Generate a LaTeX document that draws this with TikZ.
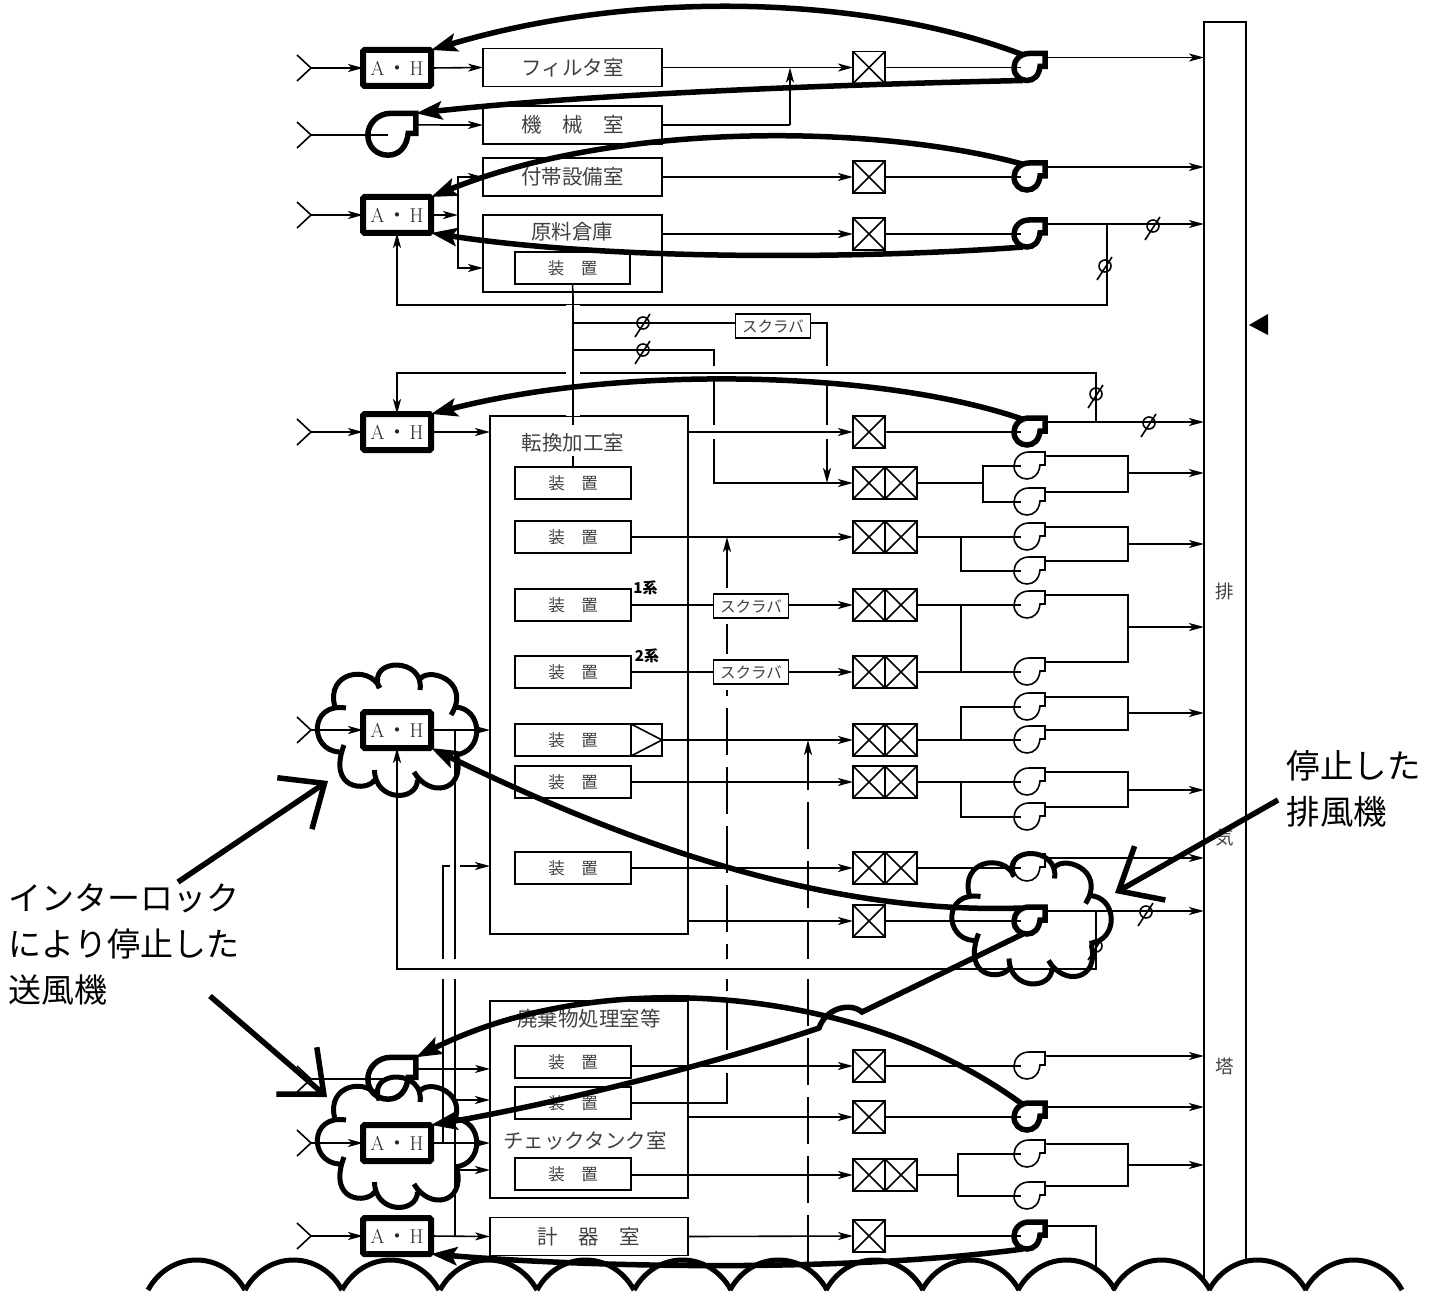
\documentclass[tikz,border=0pt]{standalone}
\usepackage{fontspec}
\newfontfamily\cjk{Noto Sans CJK JP}
\usetikzlibrary{arrows.meta}
\usetikzlibrary{positioning}
\tikzset{
    ah/.style={
           rectangle,
           rounded corners=1.5pt,
           draw=black, line width=6pt,
           minimum width=68pt, minimum height=36pt,
           inner sep=0pt, outer sep=0pt,
           font=\fontsize{20}{20}\selectfont,
           text=black!85,
           },
    room/.style={
           rectangle,
           draw=black,
           minimum width=179pt, minimum height=38pt,
           inner sep=0pt, outer sep=0pt,
           font=\fontsize{20.5}{21}\selectfont\cjk,
           text=black!75,
           },
    hall/.style={room, minimum width=198pt},
    device/.style={
           rectangle,
           draw=black,
           minimum width=116pt, minimum height=32pt,
           inner sep=0pt, outer sep=0pt,
           font=\fontsize{16.5}{17}\selectfont\cjk,
           text=black!75,
           },
    scrubber/.style={
           rectangle,
           draw=black, fill=white,
           minimum width=75pt, minimum height=24pt,
           inner sep=0pt, outer sep=0pt,
           font=\fontsize{15.5}{16}\selectfont\cjk,
           text=black!75,
           },
    xbox/.style={
           rectangle,
           draw=black,
           minimum width=32pt, minimum height=32pt,
           inner sep=0pt, outer sep=0pt,
           path picture={
             \draw (path picture bounding box.north west) -- (path picture bounding box.south east);
             \draw (path picture bounding box.south west) -- (path picture bounding box.north east);
           },
           },
    roomlabel/.style={inner sep=0pt, font=\fontsize{20.5}{21}\selectfont\cjk, text=black!75},
    towerlabel/.style={inner sep=0pt, font=\fontsize{18.5}{19}\selectfont\cjk, text=black!75},
    linelabel/.style={inner sep=0pt, font=\fontsize{15}{16}\selectfont\cjk\bfseries},
    callout/.style={inner sep=0pt, align=left},
    hot/.style={line width=5.5pt},
    hotline/.style={line width=5.5pt, -{Stealth[length=26pt,width=18pt,inset=5pt]}},
    bigarrow/.style={line width=5.5pt, -{Straight Barb[length=36pt,width=62pt]}},
    longdash/.style={dash pattern=on 47pt off 12pt},
    halo/.style={preaction={draw=white, line width=#1, -, shorten >=9pt, shorten <=9pt}},
    % blower: thin by default, [hot] when it is stopped by the interlock
    fan/.pic={
      \draw[pic actions] (18,-1) -- (18,-14) -- (2,-14)
        .. controls (-7,-14) and (-13,-7) .. (-13,0)
        .. controls (-13,8) and (-7,13) .. (0,13)
        .. controls (7,13) and (12,8) .. (13,-1) -- cycle;
      \coordinate (-hub) at (0,0);
      \coordinate (-in) at (-6,0);
      \coordinate (-out) at (18,-10);
      \coordinate (-side) at (18,-6.5);
      \coordinate (-tl) at (-5,-13);
      \coordinate (-tr) at (18,-14);
      \coordinate (-bot) at (-4,13);
    },
    damper/.pic={
      \draw (0,0) circle (6pt);
      \draw (-8,14) -- (7,-9);
    },
    inlet/.pic={
      \draw (-14,-13) -- (0,0) -- (-14,13);
      \coordinate (-tip) at (0,0);
    },
    cloud/.pic={
      \draw[line width=5pt]
        (-18,-42) .. controls (-30,-73) and (28,-73) .. (23,-40)
        (22,-49) .. controls (28,-65) and (76,-50) .. (54,-15)
        (58,-23) .. controls (86,-22) and (88,22) .. (58,25)
        (60,27) .. controls (68,62) and (32,68) .. (17,42)
        (20.5,50) .. controls (20,72) and (-22,72) .. (-22.5,40)
        (-22.5,50) .. controls (-30,62) and (-70,60) .. (-53,15)
        (-58,22) .. controls (-88,20) and (-88,-28) .. (-51,-22)
        (-62,-23) .. controls (-72,-58) and (-28,-66) .. (-17,-42);
    },
    scallop/.pic={
      \draw[line width=5pt] (0,0) .. controls (22,-40) and (75,-40) .. (97,0);
    },
}
\begin{document}
\begin{tikzpicture}[x=1pt, y=-1pt, line width=1.6pt, >={Stealth[length=15pt,width=8pt,inset=4pt]}]
 \useasboundingbox (0,0) rectangle (1442,1297);

 % Exhaust tower, open at the bottom
 \coordinate (towerL) at (1204,22);
 \draw (1204,1278) -- (towerL) -- (1246,22) -- (1246,1262);
 \node[towerlabel] (towerA) at (1225,591) {排};
 \node[towerlabel] (towerB) at (1225,838) {気};
 \node[towerlabel] (towerC) at (1225,1066) {塔};
 \fill (1249,325) -- (1268,314) -- (1268,335) -- cycle;

 % Air handlers
 \node[ah] (AHa) at (397,68) {A\hspace{2.5pt}{\cjk ・}\hspace{2.5pt}H};
 \node[ah] (AHb) at (397,215) {A\hspace{2.5pt}{\cjk ・}\hspace{2.5pt}H};
 \node[ah] (AHc) at (397,432) {A\hspace{2.5pt}{\cjk ・}\hspace{2.5pt}H};
 \node[ah] (AHd) at (397,730) {A\hspace{2.5pt}{\cjk ・}\hspace{2.5pt}H};
 \node[ah] (AHe) at (397,1143) {A\hspace{2.5pt}{\cjk ・}\hspace{2.5pt}H};
 \node[ah] (AHf) at (397,1236) {A\hspace{2.5pt}{\cjk ・}\hspace{2.5pt}H};

 % Rooms
 \node[room] (filter) at (572.5,67.5) {フィルタ室};
 \node[room] (machine) at (572.5,125) {機　械　室};
 \node[room] (annex) at (572.5,177) {付帯設備室};
 \node[room, minimum height=77pt] (storage) at (572.5,253.5) {};
 \node[roomlabel] (storageL) at (572,232) {原料倉庫};
 \node[device, minimum width=115pt] (devS) at (572.5,268) {装　置};
 \node[hall, minimum height=518pt] (conv) at (589,675) {};
 \node[roomlabel] (convL) at (573,443) {転換加工室};
 \node[hall, minimum height=197pt] (waste) at (589,1099.5) {};
 \node[roomlabel] (wasteL) at (589,1019) {廃棄物処理室等};
 \node[roomlabel] (checkL) at (585,1141) {チェックタンク室};
 \node[hall] (meter) at (589,1236.5) {計　器　室};

 % Devices
 \node[device] (devA) at (573,483) {装　置};
 \node[device] (devB) at (573,537) {装　置};
 \node[device] (devC) at (573,605) {装　置};
 \node[device] (devD) at (573,672) {装　置};
 \node[device] (devE) at (573,740) {装　置};
 \node[device] (devF) at (573,782) {装　置};
 \node[device] (devG) at (573,868) {装　置};
 \node[device] (devWa) at (573,1062) {装　置};
 \node[device] (devWb) at (573,1103) {装　置};
 \node[device] (devWc) at (573,1174) {装　置};
 \node[device,
  minimum width=31pt,
  right=0pt of devE,
  path picture={
    \draw (path picture bounding box.north west) -- (path picture bounding box.east)
       -- (path picture bounding box.south west);
  }] (ampE) {};
 \node[linelabel] (sysA) at (645.5,588) {1系};
 \node[linelabel] (sysB) at (647,656) {2系};

 % Filter boxes
 \node[xbox] (xA) at (869,67.5) {};
 \node[xbox] (xC) at (869,177) {};
 \node[xbox] (xD) at (869,234) {};
 \node[xbox] (xF) at (869,432) {};
 \node[xbox] (xEa) at (869,483) {};
 \node[xbox, right=0pt of xEa] (xEb) {};
 \node[xbox] (xGa) at (869,537) {};
 \node[xbox, right=0pt of xGa] (xGb) {};
 \node[xbox] (xHa) at (869,605) {};
 \node[xbox, right=0pt of xHa] (xHb) {};
 \node[xbox] (xIa) at (869,672) {};
 \node[xbox, right=0pt of xIa] (xIb) {};
 \node[xbox] (xJa) at (869,740) {};
 \node[xbox, right=0pt of xJa] (xJb) {};
 \node[xbox] (xKa) at (869,782) {};
 \node[xbox, right=0pt of xKa] (xKb) {};
 \node[xbox] (xLa) at (869,868) {};
 \node[xbox, right=0pt of xLa] (xLb) {};
 \node[xbox] (xM) at (869,921) {};
 \node[xbox] (xO) at (869,1066) {};
 \node[xbox] (xP) at (869,1117) {};
 \node[xbox] (xQa) at (869,1175) {};
 \node[xbox, right=0pt of xQa] (xQb) {};
 \node[xbox] (xN) at (869,1236) {};

 % Scrubbers
 \node[scrubber] (scrubA) at (773,326) {スクラバ};
 \node[scrubber] (scrubB) at (751,606) {スクラバ};
 \node[scrubber] (scrubC) at (751,672) {スクラバ};

 % Blowers
 \pic[hot] (fanA) at (1027,67.5) {fan};
 \pic[hot, scale=1.55] (fanB) at (388,135) {fan};
 \pic[hot] (fanC) at (1027,177) {fan};
 \pic[hot] (fanD) at (1027,234) {fan};
 \pic[hot] (fanF) at (1027,432) {fan};
 \pic (fanEa) at (1027,466) {fan};
 \pic (fanEb) at (1027,502) {fan};
 \pic (fanGa) at (1027,537) {fan};
 \pic (fanGb) at (1027,571) {fan};
 \pic (fanHa) at (1027,605) {fan};
 \pic (fanIa) at (1027,672) {fan};
 \pic (fanJa) at (1027,707) {fan};
 \pic (fanJb) at (1027,740) {fan};
 \pic (fanKa) at (1027,782) {fan};
 \pic (fanKb) at (1027,817) {fan};
 \pic (fanLa) at (1027,868) {fan};
 \pic[hot] (fanM) at (1027,921) {fan};
 \pic (fanO) at (1027,1066) {fan};
 \pic[hot] (fanP) at (1027,1117) {fan};
 \pic (fanQa) at (1027,1154) {fan};
 \pic (fanQb) at (1027,1196) {fan};
 \pic[hot] (fanN) at (1027,1236) {fan};
 \pic[hot, scale=1.55] (fanW) at (388,1079) {fan};

 % Outside air inlets
 \pic (inA) at (311,68) {inlet};
 \pic (inB) at (311,135) {inlet};
 \pic (inC) at (311,215) {inlet};
 \pic (inD) at (311,432) {inlet};
 \pic (inE) at (311,730) {inlet};
 \pic (inF) at (311,1079) {inlet};
 \pic (inG) at (311,1143) {inlet};
 \pic (inH) at (311,1236) {inlet};
 \draw[->] (inA-tip) -- (AHa.west);
 \draw (inB-tip) -- (fanB-hub);
 \draw[->] (inC-tip) -- (AHb.west);
 \draw[->] (inD-tip) -- (AHc.west);
 \draw[->] (inE-tip) -- (AHd.west);
 \draw (inF-tip) -- (fanW-hub);
 \draw[->] (inG-tip) -- (AHe.west);
 \draw[->] (inH-tip) -- (AHf.west);

 % Supply side
 \coordinate (forkC) at (458,215);
 \coordinate (kG) at (490,866);
 \coordinate (jG) at (443,1143);
 \coordinate (jE) at (455,730);
 \coordinate (jI) at (455,1236);
 \coordinate (jJ) at (455,1100);
 \coordinate (jK) at (455,1170);
 \draw[->] (AHa.east) -- (filter.west);
 \draw[->] (fanB-side) -- (machine.west);
 \draw[->] (AHb.east) -- (forkC);
 \draw[->] (forkC) |- (annex.west);
 \draw[->] (forkC) |- (storage.west |- devS.west);
 \draw[->] (AHc.east) -- (conv.west |- AHc.east);
 \draw[->] (jG) |- (kG);
 \draw[halo=10pt] (jE) -- (jI);
 \draw[->] (AHd.east) -- (conv.west |- AHd.east);
 \draw[->] (jJ) -- (waste.west |- jJ);
 \draw[->] (jK) -- (waste.west |- jK);
 \draw[->] (AHe.east) -- (waste.west |- AHe.east);
 \draw[->] (fanW-side) -- (waste.west |- fanW-side);
 \draw[->] (AHf.east) -- (meter.west);

 % Scrubber branches from the storage device
 \coordinate (jA) at (573,323);
 \coordinate (jB) at (573,350);
 \coordinate (kA) at (827,483);
 \coordinate (kB) at (714,483);
 \draw (jA) -- (scrubA.west |- jA);
 \draw[->] (scrubA.east |- jA) -| (kA);
 \draw[->] (jB) -| (kB) -- (xEa.west);

 % Bypass from the waste room device, dashed upward
 \coordinate (kC) at (727,1073);
 \coordinate (kJ) at (808,1262);
 \draw (devWb.east) -| (kC);
 \draw[longdash, shorten <=23pt, shorten >=6pt] (kC) -- (kC |- scrubC.south);
 \draw[longdash, shorten <=6pt, shorten >=6pt] (kC |- scrubC.north) -- (kC |- scrubB.south);
 \draw[->, shorten <=6pt] (kC |- scrubB.north) -- (kC |- devB.east);
 \draw[->, longdash] (kJ) -- (kJ |- xJa.west);

 % Return lines, each one breaks the lines it crosses
 \coordinate (jD) at (1107,224);
 \coordinate (kD) at (1107,305);
 \coordinate (jF) at (1096,422);
 \coordinate (kF) at (1096,373);
 \coordinate (jH) at (1096,911);
 \coordinate (kH) at (1096,969);
 \draw[->] (jD) -- (kD) -| (AHb.south);
 \draw[->, halo=14pt] (jF) -- (kF) -| (AHc.north);
 \draw[->, halo=20pt] (jH) -- (kH) -| (AHd.south);
 \draw[->, halo=14pt] (conv.east |- xF.west) -- (xF.west);
 \coordinate (vA) at (573,296);
 \coordinate (vB) at (573,425);
 \coordinate (vC) at (573,456);
 \draw (devS.south) -- (vA);
 \draw[halo=14pt] (vA) -- (vB);
 \draw (vC) -- (devA.north);
 \draw (jA) -- (jA -| kB);
 \draw (jB) -- (jB -| kB);

 % Rooms to filter boxes
 \draw[->] (filter.east) -- (xA.west);
 \coordinate (kB2) at (790,125);
 \draw (machine.east) -- (kB2);
 \draw[->] (kB2) -- (kB2 |- xA.west);
 \draw[->] (annex.east) -- (xC.west);
 \draw[->] (storage.east |- xD.west) -- (xD.west);
 \draw[->] (devB.east) -- (xGa.west);
 \draw (devC.east) -- (scrubB.west |- devC.east);
 \draw[->] (scrubB.east |- devC.east) -- (xHa.west);
 \draw (devD.east) -- (scrubC.west);
 \draw[->] (scrubC.east) -- (xIa.west);
 \draw[->] (ampE.east) -- (xJa.west);
 \draw[->] (devF.east) -- (xKa.west);
 \draw[->] (devG.east) -- (xLa.west);
 \draw[->] (conv.east |- xM.west) -- (xM.west);
 \draw[->] (devWa.east |- xO.west) -- (xO.west);
 \draw[->] (waste.east |- xP.west) -- (xP.west);
 \draw[->] (devWc.east |- xQa.west) -- (xQa.west);
 \draw[->] (meter.east) -- (xN.west);

 % Filter boxes to blowers
 \coordinate (forkE) at (983,483);
 \coordinate (forkG) at (961,537);
 \coordinate (forkH) at (961,605);
 \coordinate (forkJ) at (961,740);
 \coordinate (forkK) at (961,782);
 \coordinate (forkQ) at (958,1175);
 \draw (xA.east) -- (fanA-in);
 \draw (xC.east) -- (fanC-in);
 \draw (xD.east) -- (fanD-in);
 \draw (xF.east) -- (fanF-in);
 \draw (xEb.east) -- (forkE);
 \draw (forkE) |- (fanEa-in);
 \draw (forkE) |- (fanEb-in);
 \draw (xGb.east) -- (fanGa-in);
 \draw (forkG) |- (fanGb-in);
 \draw (xHb.east) -- (fanHa-in);
 \draw (xIb.east) -- (fanIa-in);
 \draw (forkH) -- (forkH |- fanIa-in);
 \draw (xJb.east) -- (fanJb-in);
 \draw (forkJ) |- (fanJa-in);
 \draw (xKb.east) -- (fanKa-in);
 \draw (forkK) |- (fanKb-in);
 \draw (xLb.east) -- (fanLa-in);
 \draw (xM.east) -- (fanM-in);
 \draw (xO.east) -- (fanO-in);
 \draw (xP.east) -- (fanP-in);
 \draw (xQb.east) -- (forkQ);
 \draw (forkQ) |- (fanQa-in);
 \draw (forkQ) |- (fanQb-in);
 \draw (xN.east) -- (fanN-in);

 % Blowers to the tower
 \coordinate (mergeE) at (1128,473);
 \coordinate (mergeG) at (1128,544);
 \coordinate (mergeH) at (1128,627);
 \coordinate (mergeJ) at (1128,713);
 \coordinate (mergeK) at (1128,790);
 \coordinate (mergeQ) at (1128,1165);
 \coordinate (endN) at (1096,1270);
 \draw[->] (fanA-out) -- (fanA-out -| towerL);
 \draw[->] (fanC-out) -- (fanC-out -| towerL);
 \draw[->] (fanD-out) -- (fanD-out -| towerL);
 \draw[->] (fanF-out) -- (fanF-out -| towerL);
 \draw (fanEa-out) -| (mergeE);
 \draw (fanEb-out) -| (mergeE);
 \draw[->] (mergeE) -- (mergeE -| towerL);
 \draw (fanGa-out) -| (mergeG);
 \draw (fanGb-out) -| (mergeG);
 \draw[->] (mergeG) -- (mergeG -| towerL);
 \draw (fanHa-out) -| (mergeH);
 \draw (fanIa-out) -| (mergeH);
 \draw[->] (mergeH) -- (mergeH -| towerL);
 \draw (fanJa-out) -| (mergeJ);
 \draw (fanJb-out) -| (mergeJ);
 \draw[->] (mergeJ) -- (mergeJ -| towerL);
 \draw (fanKa-out) -| (mergeK);
 \draw (fanKb-out) -| (mergeK);
 \draw[->] (mergeK) -- (mergeK -| towerL);
 \draw[->] (fanLa-out) -- (fanLa-out -| towerL);
 \draw[->] (fanM-out) -- (fanM-out -| towerL);
 \draw[->] (fanO-out) -- (fanO-out -| towerL);
 \draw[->] (fanP-out) -- (fanP-out -| towerL);
 \draw (fanQa-out) -| (mergeQ);
 \draw (fanQb-out) -| (mergeQ);
 \draw[->] (mergeQ) -- (mergeQ -| towerL);
 \draw (fanN-out) -| (endN);

 % Dampers
 \pic (dampA) at (1153,226) {damper};
 \pic (dampB) at (1105,266) {damper};
 \pic (dampC) at (643,323) {damper};
 \pic (dampD) at (643,350) {damper};
 \pic (dampE) at (1096,394) {damper};
 \pic (dampF) at (1149,423) {damper};
 \pic (dampG) at (1146,912) {damper};
 \pic (dampH) at (1096,946) {damper};

 % Interlock signals
 \coordinate (hopA) at (862,1012);
 \coordinate (hopB) at (819,1028);
 \draw[hotline] (fanA-tl) .. controls (880,0) and (650,-15) .. (AHa.north east);
 \draw[hotline] (fanA-bot) .. controls (860,84) and (600,93) .. (fanB-tr);
 \draw[hotline] (fanC-tl) .. controls (880,125) and (620,120) .. (AHb.north east);
 \draw[hotline] (fanD-bot) .. controls (880,258) and (620,262) .. (AHb.south east);
 \draw[hotline] (fanF-tl) .. controls (880,370) and (620,365) .. (AHc.north east);
 \draw[hotline] (fanM-tl) .. controls (820,915) and (620,840) .. (AHd.south east);
 \draw[hotline] (fanM-bot) -- (hopA) .. controls (850,1002) and (826,1008) .. (hopB)
    .. controls (680,1075) and (520,1110) .. (AHe.north east);
 \draw[hotline] (fanP-tl) .. controls (860,985) and (600,965) .. (fanW-tr);
 \draw[hotline] (fanN-bot) .. controls (850,1272) and (600,1268) .. (AHf.south east);

 % Stopped equipment
 \pic (cloudA) at (397,730) {cloud};
 \pic (cloudB) at (397,1142) {cloud};
 \pic (cloudC) at (1031.5,918.5) {cloud};

 % Callouts
 \node[callout, anchor=north west, font=\fontsize{33}{46}\selectfont\cjk] (blowerL) at (8,883) {インターロック\\により停止した\\送風機};
 \node[callout, anchor=north west, font=\fontsize{33.5}{46}\selectfont\cjk] (fanL) at (1286,750) {停止した\\排風機};
 \coordinate (tipA) at (328,781);
 \coordinate (tailA) at (178,882);
 \coordinate (tipB) at (327,1097);
 \coordinate (tailB) at (210,996);
 \coordinate (tipC) at (1115,893);
 \coordinate (tailC) at (1278,800);
 \draw[bigarrow] (tailA) -- (tipA);
 \draw[bigarrow] (tailB) -- (tipB);
 \draw[bigarrow] (tailC) -- (tipC);

 % Ground line
 \pic (gndA) at (148,1290) {scallop};
 \pic (gndB) at (245,1290) {scallop};
 \pic (gndC) at (342,1290) {scallop};
 \pic (gndD) at (440,1290) {scallop};
 \pic (gndE) at (537,1290) {scallop};
 \pic (gndF) at (634,1290) {scallop};
 \pic (gndG) at (730,1290) {scallop};
 \pic (gndH) at (826,1290) {scallop};
 \pic (gndI) at (922,1290) {scallop};
 \pic (gndJ) at (1018,1290) {scallop};
 \pic (gndK) at (1113,1290) {scallop};
 \pic (gndL) at (1209,1290) {scallop};
 \pic (gndM) at (1305,1290) {scallop};
\end{tikzpicture}
\end{document}
